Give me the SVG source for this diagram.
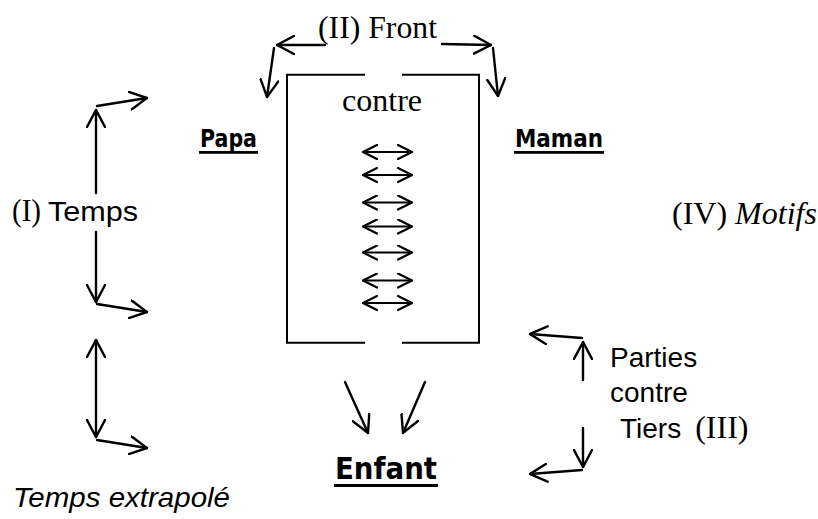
<svg xmlns="http://www.w3.org/2000/svg" width="818" height="519" viewBox="0 0 818 519">
<style>
.ln{fill:none;stroke:#000;stroke-width:2.4;stroke-linecap:round}
.box{fill:none;stroke:#000;stroke-width:2}
.dbl{fill:none;stroke:#000;stroke-width:2}
.tm{font-family:"Liberation Serif","Times New Roman",serif;font-size:32px;fill:#000}
.ar{font-family:"Liberation Sans",Arial,sans-serif;font-size:28px;fill:#000}
.cm{font-family:"Comic Sans MS","DejaVu Sans",sans-serif;font-weight:bold;fill:#000}
</style>
<defs>
<marker id="ah" viewBox="-1 -10 19 20" refX="17" refY="0" markerWidth="19" markerHeight="20" markerUnits="userSpaceOnUse" orient="auto-start-reverse">
<path d="M0,-9 L17,0 L0,9" fill="none" stroke="#000" stroke-width="2.4" stroke-linecap="round" stroke-linejoin="miter"/>
</marker>
<marker id="sh" viewBox="-1 -8 16 16" refX="14" refY="0" markerWidth="16" markerHeight="16" markerUnits="userSpaceOnUse" orient="auto-start-reverse">
<path d="M0,-7 L14,0 L0,7" fill="none" stroke="#000" stroke-width="2.2" stroke-linecap="round"/>
</marker>
</defs>
<rect width="818" height="519" fill="#fff"/>

<g id="frame">
<path class="box" d="M365,74.7 H287 V342.7 H365 M402,74.7 H479 V342.7 H402"/>
</g>

<g id="connectors">
<line class="ln" x1="325" y1="45" x2="277" y2="45" marker-end="url(#ah)"/>
<line class="ln" x1="274" y1="48" x2="267" y2="97" marker-end="url(#ah)"/>
<line class="ln" x1="442" y1="44" x2="491" y2="45" marker-end="url(#ah)"/>
<line class="ln" x1="493" y1="48" x2="498" y2="96" marker-end="url(#ah)"/>

<line class="ln" x1="96" y1="193" x2="96" y2="110" marker-end="url(#ah)"/>
<line class="ln" x1="97" y1="106" x2="147" y2="98" marker-end="url(#ah)"/>
<line class="ln" x1="96" y1="232" x2="96" y2="302" marker-end="url(#ah)"/>
<line class="ln" x1="97" y1="304" x2="147" y2="312" marker-end="url(#ah)"/>
<line class="ln" x1="96" y1="340" x2="96" y2="437" marker-start="url(#ah)" marker-end="url(#ah)"/>
<line class="ln" x1="97" y1="440" x2="147" y2="448" marker-end="url(#ah)"/>

<line class="ln" x1="345" y1="382" x2="368" y2="433" marker-end="url(#ah)"/>
<line class="ln" x1="425" y1="382" x2="403" y2="433" marker-end="url(#ah)"/>

<line class="ln" x1="582" y1="338" x2="530" y2="334" marker-end="url(#ah)"/>
<line class="ln" x1="583" y1="380" x2="583" y2="342" marker-end="url(#ah)"/>
<line class="ln" x1="583" y1="428" x2="583" y2="467" marker-end="url(#ah)"/>
<line class="ln" x1="582" y1="470" x2="530" y2="474" marker-end="url(#ah)"/>

<line class="dbl" x1="363" y1="152" x2="412" y2="152" marker-start="url(#sh)" marker-end="url(#sh)"/>
<line class="dbl" x1="363" y1="175" x2="412" y2="175" marker-start="url(#sh)" marker-end="url(#sh)"/>
<line class="dbl" x1="363" y1="202.5" x2="412" y2="202.5" marker-start="url(#sh)" marker-end="url(#sh)"/>
<line class="dbl" x1="363" y1="226.5" x2="412" y2="226.5" marker-start="url(#sh)" marker-end="url(#sh)"/>
<line class="dbl" x1="363" y1="252.5" x2="412" y2="252.5" marker-start="url(#sh)" marker-end="url(#sh)"/>
<line class="dbl" x1="363" y1="280.5" x2="412" y2="280.5" marker-start="url(#sh)" marker-end="url(#sh)"/>
<line class="dbl" x1="363" y1="303" x2="412" y2="303" marker-start="url(#sh)" marker-end="url(#sh)"/>
</g>

<g id="front"><text class="tm" x="318" y="38" textLength="119" lengthAdjust="spacingAndGlyphs">(II) Front</text></g>
<g id="contre"><text class="tm" x="342" y="111" textLength="80" lengthAdjust="spacingAndGlyphs">contre</text></g>
<g id="papa"><text class="cm" x="200" y="147" font-size="24" textLength="57" lengthAdjust="spacingAndGlyphs">Papa</text><rect x="199" y="151" width="59" height="2.8"/></g>
<g id="maman"><text class="cm" x="515" y="147" font-size="24" textLength="88" lengthAdjust="spacingAndGlyphs">Maman</text><rect x="514" y="151" width="90" height="2.8"/></g>
<g id="temps"><text class="tm" x="12" y="221" font-size="30" textLength="29" lengthAdjust="spacingAndGlyphs">(I)</text><text class="ar" x="48" y="221" font-size="30" textLength="90" lengthAdjust="spacingAndGlyphs">Temps</text></g>
<g id="motifs"><text class="tm" x="672" y="224">(IV) <tspan font-style="italic">Motifs</tspan></text></g>
<g id="tiers">
<text class="ar" x="610" y="367">Parties</text>
<text class="ar" x="610" y="402">contre</text>
<text x="620" y="438"><tspan class="ar">Tiers</tspan><tspan class="tm" dx="14">(III)</tspan></text>
</g>
<g id="enfant"><text class="cm" x="335" y="479" font-size="30" textLength="102" lengthAdjust="spacingAndGlyphs">Enfant</text><rect x="334" y="484" width="104" height="3"/></g>
<g id="extrapole"><text class="ar" x="13" y="507" font-style="italic" font-size="28.5" textLength="217" lengthAdjust="spacingAndGlyphs">Temps extrapolé</text></g>
</svg>
